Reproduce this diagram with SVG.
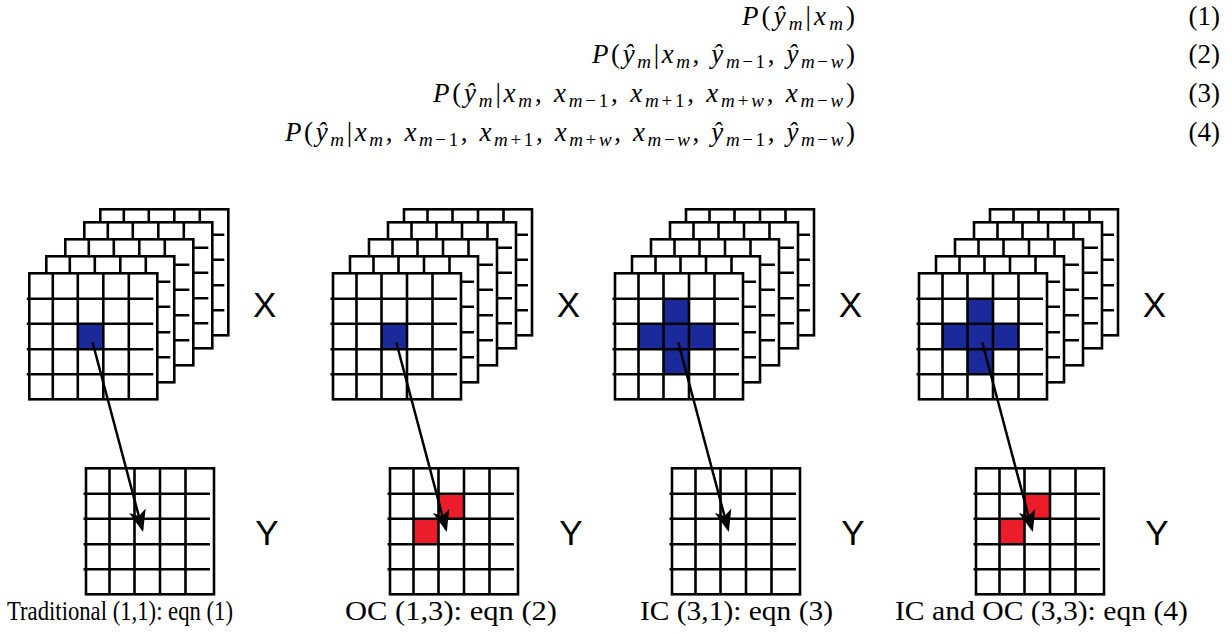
<svg xmlns="http://www.w3.org/2000/svg" xmlns:xlink="http://www.w3.org/1999/xlink" width="1232" height="634" viewBox="0 0 1232 634">
<style>
.eq{font-family:"Liberation Serif","Times New Roman",serif;font-size:27px;font-style:italic;fill:#000}
.u{font-style:normal}
.s{font-size:19px}
.num{font-family:"Liberation Serif","Times New Roman",serif;font-size:27px;fill:#000}
.cap{font-family:"Liberation Serif","Times New Roman",serif;font-size:27px;fill:#000}
.lbl{font-family:"Liberation Sans",Arial,sans-serif;font-size:35px;fill:#000;text-anchor:middle}
.ln{stroke:#000;stroke-width:2.6;fill:none}
.bg{fill:#fff}
.blue{fill:#1b2a9b}
.red{fill:#ec1c2b}
.arrow{stroke:#000;stroke-width:2.5;fill:none;marker-end:url(#ah)}
</style>
<defs>
<rect id="bg" class="bg" x="0" y="0" width="128" height="126"/>
<g id="gl" class="ln">
<rect x="0" y="0" width="128" height="126"/>
<path d="M23.5,0V126M48.5,0V126M74,0V126M99.5,0V126M-2.5,25.5H124M-2.5,50.5H124M-2.5,76H124M-2.5,101H124"/>
</g>
<g id="layer"><use href="#bg"/><use href="#gl"/></g>
<g id="stack">
<use href="#layer" transform="translate(71,-64)"/>
<use href="#layer" transform="translate(55,-51)"/>
<use href="#layer" transform="translate(36,-34)"/>
<use href="#layer" transform="translate(17,-17)"/>
<use href="#bg"/>
</g>
<marker id="ah" markerUnits="userSpaceOnUse" markerWidth="24" markerHeight="18" refX="19" refY="8.5" orient="auto" viewBox="0 0 24 18">
<path d="M0,0 L22,8.5 L0,17 L5.5,8.5 z" fill="#000"/>
</marker>
</defs>

<g id="equations">
<text class="eq" x="855" y="24.5" text-anchor="end" textLength="113" lengthAdjust="spacing">P<tspan class="u">(</tspan>ŷ<tspan class="s" dy="5">m</tspan><tspan class="u" dy="-5">|</tspan>x<tspan class="s" dy="5">m</tspan><tspan class="u" dy="-5">)</tspan></text>
<text class="eq" x="855" y="63" text-anchor="end" textLength="263" lengthAdjust="spacing">P<tspan class="u">(</tspan>ŷ<tspan class="s" dy="5">m</tspan><tspan class="u" dy="-5">|</tspan>x<tspan class="s" dy="5">m</tspan><tspan class="u" dy="-5">, </tspan>ŷ<tspan class="s" dy="5">m<tspan class="u">−1</tspan></tspan><tspan class="u" dy="-5">, </tspan>ŷ<tspan class="s" dy="5">m<tspan class="u">−</tspan>w</tspan><tspan class="u" dy="-5">)</tspan></text>
<text class="eq" x="855" y="102" text-anchor="end" textLength="422" lengthAdjust="spacing">P<tspan class="u">(</tspan>ŷ<tspan class="s" dy="5">m</tspan><tspan class="u" dy="-5">|</tspan>x<tspan class="s" dy="5">m</tspan><tspan class="u" dy="-5">, </tspan>x<tspan class="s" dy="5">m<tspan class="u">−1</tspan></tspan><tspan class="u" dy="-5">, </tspan>x<tspan class="s" dy="5">m<tspan class="u">+1</tspan></tspan><tspan class="u" dy="-5">, </tspan>x<tspan class="s" dy="5">m<tspan class="u">+</tspan>w</tspan><tspan class="u" dy="-5">, </tspan>x<tspan class="s" dy="5">m<tspan class="u">−</tspan>w</tspan><tspan class="u" dy="-5">)</tspan></text>
<text class="eq" x="855" y="141" text-anchor="end" textLength="570" lengthAdjust="spacing">P<tspan class="u">(</tspan>ŷ<tspan class="s" dy="5">m</tspan><tspan class="u" dy="-5">|</tspan>x<tspan class="s" dy="5">m</tspan><tspan class="u" dy="-5">, </tspan>x<tspan class="s" dy="5">m<tspan class="u">−1</tspan></tspan><tspan class="u" dy="-5">, </tspan>x<tspan class="s" dy="5">m<tspan class="u">+1</tspan></tspan><tspan class="u" dy="-5">, </tspan>x<tspan class="s" dy="5">m<tspan class="u">+</tspan>w</tspan><tspan class="u" dy="-5">, </tspan>x<tspan class="s" dy="5">m<tspan class="u">−</tspan>w</tspan><tspan class="u" dy="-5">, </tspan>ŷ<tspan class="s" dy="5">m<tspan class="u">−1</tspan></tspan><tspan class="u" dy="-5">, </tspan>ŷ<tspan class="s" dy="5">m<tspan class="u">−</tspan>w</tspan><tspan class="u" dy="-5">)</tspan></text>
<text class="num" x="1220" y="24.5" text-anchor="end">(1)</text>
<text class="num" x="1220" y="63" text-anchor="end">(2)</text>
<text class="num" x="1220" y="102" text-anchor="end">(3)</text>
<text class="num" x="1220" y="141" text-anchor="end">(4)</text>
</g>

<!-- Panel 1 -->
<g id="p1-x" transform="translate(29.3,273.3)">
<use href="#stack"/>
<rect class="blue" x="48.5" y="50.5" width="25.5" height="25.5"/>
<use href="#gl"/>
</g>
<text id="p1-xlabel" class="lbl" x="264.8" y="316.7">X</text>
<g id="p1-y" transform="translate(86,468.3)">
<use href="#bg"/>
<use href="#gl"/>
</g>
<text id="p1-ylabel" class="lbl" x="267" y="545">Y</text>
<text id="p1-cap" class="cap" x="7" y="620" textLength="226" lengthAdjust="spacingAndGlyphs">Traditional (1,1): eqn (1)</text>

<!-- Panel 2 -->
<g id="p2-x" transform="translate(333,273.3)">
<use href="#stack"/>
<rect class="blue" x="48.5" y="50.5" width="25.5" height="25.5"/>
<use href="#gl"/>
</g>
<text id="p2-xlabel" class="lbl" x="568.5" y="316.7">X</text>
<g id="p2-y" transform="translate(390,468.3)">
<use href="#bg"/>
<rect class="red" x="48.5" y="25.5" width="25.5" height="25"/>
<rect class="red" x="23.5" y="50.5" width="25" height="25.5"/>
<use href="#gl"/>
</g>
<text id="p2-ylabel" class="lbl" x="571" y="545">Y</text>
<text id="p2-cap" class="cap" x="345" y="620" textLength="212" lengthAdjust="spacingAndGlyphs">OC (1,3): eqn (2)</text>

<!-- Panel 3 -->
<g id="p3-x" transform="translate(615,273.3)">
<use href="#stack"/>
<path class="blue" d="M48.5,25.5H74V50.5H99.5V76H74V101H48.5V76H23.5V50.5H48.5z"/>
<use href="#gl"/>
</g>
<text id="p3-xlabel" class="lbl" x="850.5" y="316.7">X</text>
<g id="p3-y" transform="translate(672,468.3)">
<use href="#bg"/>
<use href="#gl"/>
</g>
<text id="p3-ylabel" class="lbl" x="853" y="545">Y</text>
<text id="p3-cap" class="cap" x="640" y="620" textLength="193" lengthAdjust="spacingAndGlyphs">IC (3,1): eqn (3)</text>

<!-- Panel 4 -->
<g id="p4-x" transform="translate(919,273.3)">
<use href="#stack"/>
<path class="blue" d="M48.5,25.5H74V50.5H99.5V76H74V101H48.5V76H23.5V50.5H48.5z"/>
<use href="#gl"/>
</g>
<text id="p4-xlabel" class="lbl" x="1154.5" y="316.7">X</text>
<g id="p4-y" transform="translate(976,468.3)">
<use href="#bg"/>
<rect class="red" x="48.5" y="25.5" width="25.5" height="25"/>
<rect class="red" x="23.5" y="50.5" width="25" height="25.5"/>
<use href="#gl"/>
</g>
<text id="p4-ylabel" class="lbl" x="1157" y="545">Y</text>
<text id="p4-cap" class="cap" x="895" y="620" textLength="293" lengthAdjust="spacingAndGlyphs">IC and OC (3,3): eqn (4)</text>

<g id="connectors">
<line class="arrow" x1="92.6" y1="342.5" x2="142.3" y2="529.1"/>
<line class="arrow" x1="396.3" y1="342.5" x2="446" y2="529.1"/>
<line class="arrow" x1="678.3" y1="342.5" x2="728" y2="529.1"/>
<line class="arrow" x1="982.3" y1="342.5" x2="1032" y2="529.1"/>
</g>
</svg>
